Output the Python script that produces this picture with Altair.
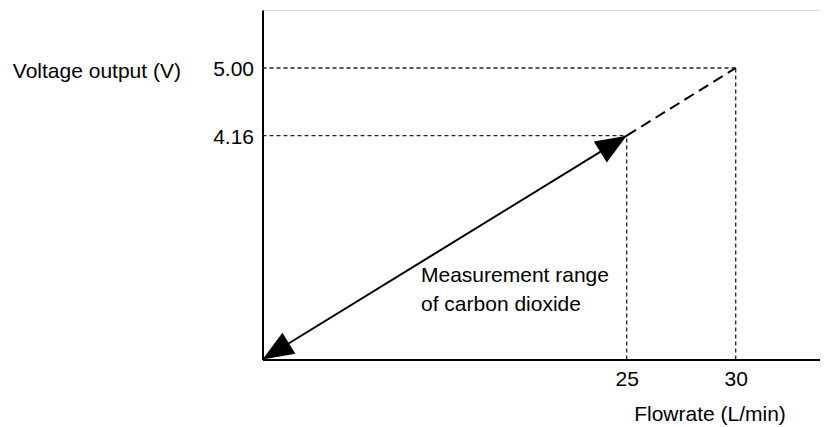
import altair as alt
import pandas as pd

# ---- data ----
flow_ticks = [25, 30]            # L/min
volt_ticks = [4.16, 5.00]        # V
range_x = [0, 25]                # measurement range (solid, double arrow)
range_y = [0, 4.16]
ext_x = [25, 30]                 # extrapolated part (dashed)
ext_y = [4.16, 5.00]
x_domain = [0, 25, 30, 34]       # schematic (not-to-scale) axis breakpoints
y_domain = [0, 4.16, 5.00, 5.72]
annotation_lines = ["Measurement range", "of carbon dioxide"]
x_title = "Flowrate (L/min)"
y_title = "Voltage output (V)"

FONT = "Liberation Sans, Arial, Helvetica, sans-serif"
FS = 21
W = 557.5
H = 349.5

x_scale = alt.Scale(domain=x_domain, range=[0, 364.2, 473.2, W], nice=False, zero=False)
y_scale = alt.Scale(domain=y_domain, range=[H, 125.7, 58, 0], nice=False, zero=False)

x_axis = alt.Axis(
    values=flow_ticks, format="d", ticks=False, tickSize=0, labelPadding=9,
    labelFont=FONT, labelFontSize=FS, labelColor="black", labelFlush=False,
    labelOverlap=False, domainColor="black", domainWidth=2, grid=False,
    title=x_title, titleFont=FONT, titleFontSize=FS, titleFontWeight="normal",
    titleColor="black", titleAngle=0, titleX=447, titleY=61.2,
    titleAlign="center", titleBaseline="alphabetic",
)
y_axis = alt.Axis(
    values=volt_ticks, format=".2f", ticks=False, tickSize=0, labelPadding=9,
    labelFont=FONT, labelFontSize=FS, labelColor="black", labelFlush=False,
    labelOverlap=False, labelOffset=1.5, domainColor="black", domainWidth=2, grid=False,
    title=y_title, titleFont=FONT, titleFontSize=FS, titleFontWeight="normal",
    titleColor="black", titleAngle=0, titleX=-250.2, titleY=67.3,
    titleAlign="left", titleBaseline="alphabetic",
)

X = alt.X("x:Q", scale=x_scale, axis=x_axis)
Y = alt.Y("y:Q", scale=y_scale, axis=y_axis)

# guide (dotted) lines: horizontal from y-axis to the point, vertical down to x-axis
gx, gx2, gy, gy2 = [], [], [], []
for fx, v in zip(flow_ticks, volt_ticks):
    gx += [x_domain[0], fx]
    gx2 += [fx, fx]
    gy += [v, y_domain[0]]
    gy2 += [v, v]
guides_df = pd.DataFrame({"x": gx, "x2": gx2, "y": gy, "y2": gy2})

guides = alt.Chart(guides_df).mark_rule(
    color="#222222", strokeWidth=1.3, strokeDash=[4, 3]
).encode(x=X, y=Y, x2="x2:Q", y2="y2:Q")

range_df = pd.DataFrame({"x": range_x, "y": range_y})
ext_df = pd.DataFrame({"x": ext_x, "y": ext_y})

solid = alt.Chart(range_df).mark_line(color="black", strokeWidth=2).encode(x=X, y=Y)
dashed = alt.Chart(ext_df).mark_line(
    color="black", strokeWidth=2, strokeDash=[11, 6]
).encode(x=X, y=Y)

ARROW = "M0,0L-0.8,2L0.8,2Z"
head_up = alt.Chart(range_df.iloc[[1]]).mark_point(
    shape=ARROW, size=961, filled=True, color="black", opacity=1, angle=58.4, strokeWidth=0
).encode(x=X, y=Y)
head_down = alt.Chart(range_df.iloc[[0]]).mark_point(
    shape=ARROW, size=961, filled=True, color="black", opacity=1, angle=238.4, strokeWidth=0
).encode(x=X, y=Y)

note_df = pd.DataFrame({"label": ["\n".join(annotation_lines)]})
note = alt.Chart(note_df).mark_text(
    align="left", baseline="alphabetic", font=FONT, fontSize=FS, color="black",
    lineBreak="\n", lineHeight=28.4
).encode(x=alt.value(158.5), y=alt.value(272.3), text="label:N")

chart = alt.layer(guides, solid, dashed, head_up, head_down, note).properties(
    width=W, height=H,
    autosize=alt.AutoSizeParams(type="none"),
    padding={"left": 254.5, "top": 2, "right": 0, "bottom": 67.5},
).configure_view(stroke=None).configure(background="white")

chart.save("out.html", embed_options={"renderer": "svg", "actions": False})
